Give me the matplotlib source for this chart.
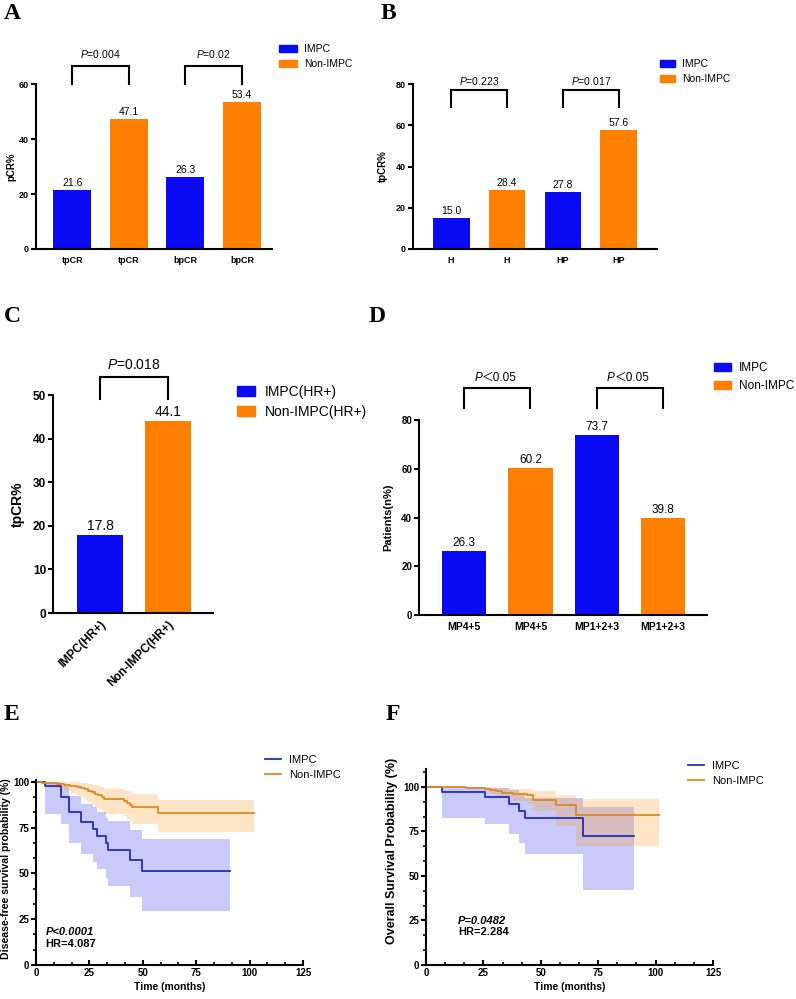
import matplotlib.pyplot as plt
from matplotlib.patches import Patch
from matplotlib.lines import Line2D
from matplotlib.ticker import MultipleLocator

plt.rcParams['font.family'] = ['Liberation Sans', 'Noto Sans CJK SC', 'DejaVu Sans']
plt.rcParams['mathtext.fontset'] = 'custom'
plt.rcParams['mathtext.rm'] = 'Liberation Sans'
plt.rcParams['mathtext.it'] = 'Liberation Sans:italic'
plt.rcParams['mathtext.bf'] = 'Liberation Sans:bold'

BLUE = '#0A0AF5'
ORANGE = '#FF8000'
KM_BLUE = '#2030B8'
KM_ORANGE = '#DC8A22'

# ---- data ----
a_labels = ['tpCR', 'tpCR', 'bpCR', 'bpCR']
a_values = [21.6, 47.1, 26.3, 53.4]
a_pvals = ['$\\it{P}$=0.004', '$\\it{P}$=0.02']

b_labels = ['H', 'H', 'HP', 'HP']
b_values = [15.0, 28.4, 27.8, 57.6]
b_pvals = ['$\\it{P}$=0.223', '$\\it{P}$=0.017']

c_labels = ['IMPC(HR+)', 'Non-IMPC(HR+)']
c_values = [17.8, 44.1]
c_pvals = ['$\\it{P}$=0.018']

d_labels = ['MP4+5', 'MP4+5', 'MP1+2+3', 'MP1+2+3']
d_values = [26.3, 60.2, 73.7, 39.8]
d_pvals = ['＜0.05', '＜0.05']

groups = ['IMPC', 'Non-IMPC']
groups_hr = ['IMPC(HR+)', 'Non-IMPC(HR+)']

# DFS (panel E)
e_impc_t = [0, 4.0, 11.6, 15.5, 21.0, 26.5, 28.4, 32.6, 33.6, 44.2, 49.8, 90.8]
e_impc_s = [100, 97.6, 91.8, 83.4, 77.8, 74.4, 70.4, 66.8, 62.8, 57.3, 51.1, 51.1]
e_impc_lo = [100, 82.6, 77.0, 66.8, 60.5, 56.0, 52.2, 47.5, 43.2, 37.0, 29.6, 29.6]
e_impc_hi = [100, 100, 97.5, 92.0, 88.0, 86.0, 83.5, 80.5, 78.5, 73.5, 69.0, 69.0]

e_non_t = [0, 3, 7, 10, 13, 16, 19, 21, 23, 24.5, 26, 27.5, 29, 31, 32, 41, 42.5, 44, 45, 57, 102]
e_non_s = [100, 99.6, 99.2, 98.8, 98.3, 97.8, 97.2, 96.6, 95.9, 95.2, 94.4, 93.6, 92.7,
           91.8, 90.5, 89.7, 88.5, 87.3, 86.2, 83.0, 83.0]
e_non_lo = [100, 98.5, 97.5, 96.5, 95.2, 94.0, 92.7, 91.5, 90.2, 89.0, 87.8, 86.5, 85.2,
            84.0, 82.5, 81.2, 79.8, 78.5, 77.0, 72.8, 72.8]
e_non_hi = [100, 100, 100, 100, 100, 100, 99.8, 99.5, 99.2, 98.8, 98.4, 98.0, 97.5,
            97.0, 96.3, 95.8, 95.0, 94.2, 93.5, 90.0, 90.0]

# OS (panel F)
f_impc_t = [0, 7.1, 25.5, 36.2, 40.6, 43.2, 68.4, 90.4]
f_impc_s = [100, 97.2, 94.3, 90.5, 86.5, 82.6, 72.2, 72.2]
f_impc_lo = [100, 82.3, 79.3, 73.6, 68.3, 62.3, 42.3, 42.3]
f_impc_hi = [100, 100, 99.5, 98.0, 96.0, 94.0, 88.5, 88.5]

f_non_t = [0, 17.5, 25.5, 28, 30.5, 33, 38, 44, 46.5, 56.8, 65.5, 101.5]
f_non_s = [100, 99.4, 98.9, 98.2, 97.5, 96.8, 96.1, 95.2, 92.5, 89.7, 84.4, 84.4]
f_non_lo = [100, 98.5, 97.5, 96.0, 94.8, 93.5, 92.0, 90.5, 86.5, 78.2, 66.6, 66.6]
f_non_hi = [100, 100, 100, 99.8, 99.6, 99.3, 99.0, 98.5, 97.5, 95.3, 93.2, 93.2]

W, H = 796, 999
fig = plt.figure(figsize=(W / 100, H / 100), dpi=100)


def px_axes(left, top, right, bottom):
    return fig.add_axes([left / W, 1 - bottom / H, (right - left) / W, (bottom - top) / H])


def style_axes(ax, fs):
    for s in ['top', 'right']:
        ax.spines[s].set_visible(False)
    for s in ['left', 'bottom']:
        ax.spines[s].set_linewidth(1.5)
    ax.tick_params(axis='y', direction='out', width=1.5, length=3.5, labelsize=fs, pad=1.5)
    for lab in ax.get_yticklabels():
        lab.set_fontweight('bold')


def bar_panel(ax, labels, values, ymax, ystep, xlim, width, fs_tick, fs_val):
    x = list(range(len(values)))
    colors = [BLUE if i % 2 == 0 else ORANGE for i in x]
    ax.bar(x, values, width=width, color=colors)
    for xi, v in zip(x, values):
        ax.annotate(f'{v:.1f}', (xi, v), xytext=(0, 1.5), textcoords='offset points',
                    ha='center', va='bottom', fontsize=fs_val)
    ax.set_xlim(*xlim)
    ax.set_ylim(0, ymax)
    ax.set_yticks(range(0, ymax + 1, ystep))
    ax.set_xticks(x)
    ax.set_xticklabels(labels, fontsize=fs_tick, fontweight='bold')
    ax.tick_params(axis='x', length=0, pad=5)
    style_axes(ax, fs_tick)
    return x


def bracket(ax, x0, x1, yb, yt, ytext, label, fs, split=False):
    ax.plot([x0, x0, x1, x1], [yb, yt, yt, yb], color='black', lw=1.5, clip_on=False,
            solid_joinstyle='miter')
    xm = (x0 + x1) / 2
    if split:
        off = -1.28 * fs
        ax.annotate('P', (xm, ytext), xytext=(off, 0), textcoords='offset points',
                    ha='right', va='center', fontsize=fs, fontstyle='italic',
                    annotation_clip=False)
        ax.annotate(label, (xm, ytext), xytext=(off, 0), textcoords='offset points',
                    ha='left', va='center', fontsize=fs, annotation_clip=False)
    else:
        ax.text(xm, ytext, label, ha='center', va='center', fontsize=fs, clip_on=False)


def bar_legend(labels, x, y, fs, hl, hh=0.7, ls=0.5):
    handles = [Patch(color=BLUE), Patch(color=ORANGE)]
    fig.legend(handles, labels, loc='upper left', bbox_to_anchor=(x / W, 1 - y / H),
               frameon=False, fontsize=fs, handlelength=hl, handleheight=hh,
               handletextpad=0.7, labelspacing=ls, borderpad=0, borderaxespad=0)


def panel_letter(x, y, s):
    fig.text(x / W, 1 - y / H, s, fontsize=17, fontweight='bold',
             family='Liberation Serif', va='top', ha='left')


# ---- A ----
ax = px_axes(36, 84, 272, 249)
x = bar_panel(ax, a_labels, a_values, 60, 20, (-0.64, 3.53), 0.67, 6.5, 7.5)
for i, p in enumerate(a_pvals):
    bracket(ax, x[2 * i], x[2 * i + 1], 60, 66.5, 71, p, 7.5)
ax.set_ylabel('pCR%', fontsize=7, fontweight='bold')
ax.yaxis.set_label_coords(-0.085, 0.5)
bar_legend(groups, 279, 44, 7.5, 1.7)
panel_letter(4, 3, 'A')

# ---- B ----
ax = px_axes(413, 84, 657, 249)
x = bar_panel(ax, b_labels, b_values, 80, 20, (-0.68, 3.68), 0.66, 6.5, 7.5)
for i, p in enumerate(b_pvals):
    bracket(ax, x[2 * i], x[2 * i + 1], 68.8, 77.1, 81.5, p, 7.5)
ax.set_ylabel('tpCR%', fontsize=7, fontweight='bold')
ax.yaxis.set_label_coords(-0.105, 0.5)
bar_legend(groups, 660, 59, 7.5, 1.4)
panel_letter(381, 3, 'B')

# ---- C ----
ax = px_axes(53, 395, 213, 613)
x = bar_panel(ax, c_labels, c_values, 50, 10, (-0.69, 1.66), 0.68, 8.5, 10)
for lab in ax.get_xticklabels():
    lab.set_rotation(45)
    lab.set_ha('right')
    lab.set_rotation_mode('anchor')
ax.tick_params(axis='x', pad=4)
bracket(ax, x[0], x[1], 49.1, 54.1, 56.9, c_pvals[0], 10)
ax.set_ylabel('tpCR%', fontsize=10, fontweight='bold')
ax.yaxis.set_label_coords(-0.175, 0.5)
bar_legend(groups_hr, 237, 385, 10, 1.3, 0.75, 0.45)
panel_letter(4, 306, 'C')

# ---- D ----
ax = px_axes(419, 420, 707, 615)
x = bar_panel(ax, d_labels, d_values, 80, 20, (-0.68, 3.66), 0.67, 7, 8.5)
ax.tick_params(axis='x', labelsize=7.5)
for i, p in enumerate(d_pvals):
    bracket(ax, x[2 * i], x[2 * i + 1], 84.9, 93.1, 97.2, p, 8.5, split=True)
ax.set_ylabel('Patients(n%)', fontsize=8, fontweight='bold')
ax.yaxis.set_label_coords(-0.09, 0.5)
bar_legend(groups, 714, 362, 8.5, 1.4)
panel_letter(369, 306, 'D')


# ---- E / F ----
def km_panel(ax, curves, ymax, ylabel, ylabel_fs, ptext, hrtext, txy, label_xy):
    for t, s, lo, hi, lc, bc, ba in curves:
        ax.fill_between(t, lo, hi, step='post', color=bc, alpha=ba, lw=0)
    for t, s, lo, hi, lc, bc, ba in curves:
        ax.step(t, s, where='post', color=lc, lw=1.3)
    ax.set_xlim(0, 125)
    ax.set_ylim(0, ymax)
    ax.xaxis.set_major_locator(MultipleLocator(25))
    ax.xaxis.set_minor_locator(MultipleLocator(25 / 3))
    ax.yaxis.set_major_locator(MultipleLocator(25))
    ax.yaxis.set_minor_locator(MultipleLocator(25 / 3))
    ax.set_yticks([0, 25, 50, 75, 100])
    for s in ['top', 'right']:
        ax.spines[s].set_visible(False)
    for s in ['left', 'bottom']:
        ax.spines[s].set_linewidth(1.5)
    ax.tick_params(axis='y', which='major', direction='out', width=1.5, length=3.5,
                   labelsize=7, pad=1.5)
    ax.tick_params(axis='y', which='minor', direction='out', width=1.2, length=2)
    ax.tick_params(axis='x', which='major', direction='in', width=1.5, length=3.5,
                   labelsize=7, pad=2)
    ax.tick_params(axis='x', which='minor', direction='in', width=1.2, length=2)
    for lab in ax.get_xticklabels() + ax.get_yticklabels():
        lab.set_fontweight('bold')
    ax.set_xlabel('Time (months)', fontsize=7.5, fontweight='bold', labelpad=3)
    ax.set_ylabel(ylabel, fontsize=ylabel_fs, fontweight='bold')
    ax.yaxis.set_label_coords(*label_xy)
    ax.text(txy[0], txy[1], ptext, fontsize=8, fontweight='bold', fontstyle='italic',
            va='center', ha='left')
    ax.text(txy[0], txy[2], hrtext, fontsize=8, fontweight='bold', va='center', ha='left')


def km_legend(x, y):
    handles = [Line2D([], [], color=KM_BLUE, lw=1.3), Line2D([], [], color=KM_ORANGE, lw=1.3)]
    fig.legend(handles, groups, loc='upper left', bbox_to_anchor=(x / W, 1 - y / H),
               frameon=False, fontsize=8, handlelength=1.4, handletextpad=0.8,
               labelspacing=0.45, borderpad=0, borderaxespad=0)


ax = px_axes(36, 780, 303, 965)
km_panel(ax, [
    (e_impc_t, e_impc_s, e_impc_lo, e_impc_hi, KM_BLUE, '#4C4CF0', 0.3),
    (e_non_t, e_non_s, e_non_lo, e_non_hi, KM_ORANGE, '#FF9A1A', 0.25),
], 101, 'Disease-free survival probability (%)', 7.6, 'P<0.0001', 'HR=4.087',
    (4.5, 18, 11.5), (-0.093, 0.52))
km_legend(265, 755)
panel_letter(4, 704, 'E')

ax = px_axes(426, 769, 713, 965)
km_panel(ax, [
    (f_impc_t, f_impc_s, f_impc_lo, f_impc_hi, KM_BLUE, '#4C4CF0', 0.3),
    (f_non_t, f_non_s, f_non_lo, f_non_hi, KM_ORANGE, '#FF9A1A', 0.25),
], 110, 'Overall Survival Probability (%)', 9, 'P=0.0482', 'HR=2.284',
    (14, 24.7, 18.5), (-0.098, 0.58))
km_legend(688, 761)
panel_letter(386, 704, 'F')

fig.savefig('out.png', dpi=100)
